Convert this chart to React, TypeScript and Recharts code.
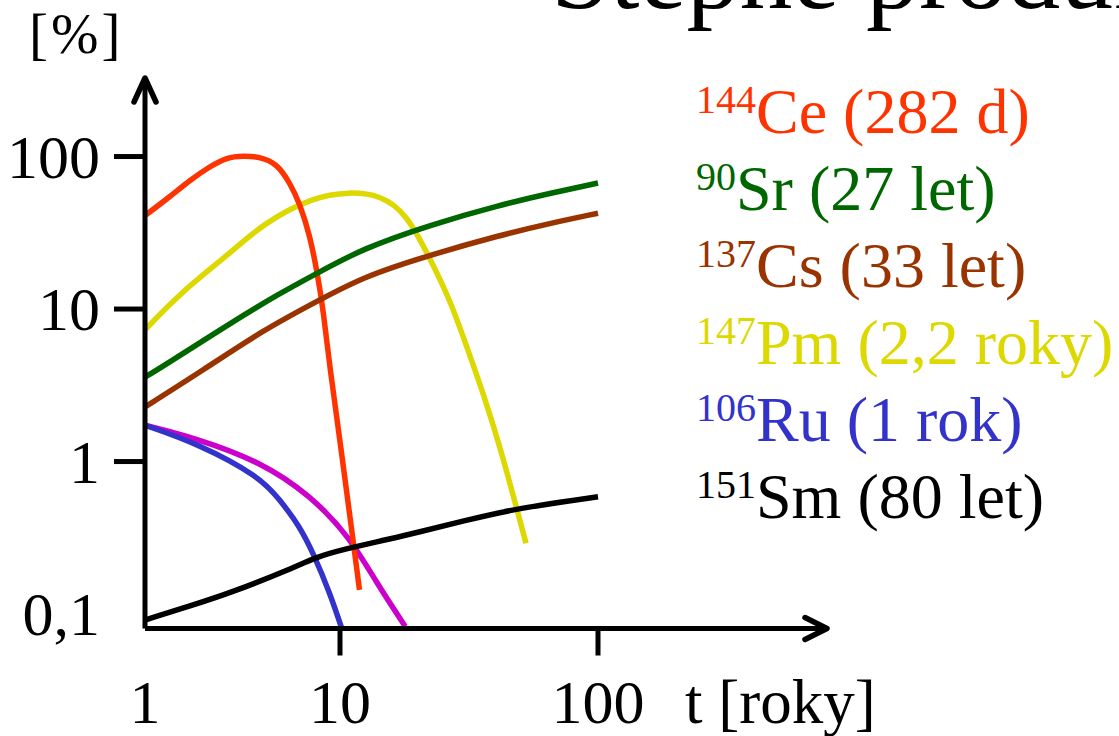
import { LineChart, Line, XAxis, YAxis, Legend, ReferenceDot } from 'recharts';

const FONT = '"Liberation Serif", "Times New Roman", serif';

// The time axis is drawn with the 10–100 decade wider than the 1–10 decade.
const SECOND_DECADE = 258 / 195;
const toAxis = (t: number) => {
  const l = Math.log10(t);
  return l <= 1 ? l : 1 + (l - 1) * SECOND_DECADE;
};
const fromAxis = (u: number) => (u <= 1 ? 10 ** u : 10 ** (1 + (u - 1) / SECOND_DECADE));

const X_MAX = 682 / 195;
const Y_MIN = 0.0804;
const Y_MAX = 327.3;

const X_TICKS = [1, 10, 100];
const Y_TICKS = [0.1, 1, 10, 100];

// nuclides shown in the legend
const KEYS = ['ce', 'sr', 'cs', 'pm', 'ru', 'sm'];
const MASS = ['144', '90', '137', '147', '106', '151'];
const SYMBOL = ['Ce', 'Sr', 'Cs', 'Pm', 'Ru', 'Sm'];
const HALF_LIFE = ['282 d', '27 let', '33 let', '2,2 roky', '1 rok', '80 let'];
const COLORS = ['#ff3300', '#006600', '#993300', '#dcd800', '#3333cc', '#000000'];

// [t (roky), podíl (%)]
const CE = [
  [1, 41], [1.33, 54], [1.7, 70], [2.15, 86], [2.63, 99], [3.2, 101], [3.9, 99.5],
  [4.74, 90], [5.54, 67], [6.23, 49], [7.02, 30], [7.6, 18], [8.21, 9.9], [8.89, 4.0],
  [10, 1.38], [11.9, 0.144],
];
const SR = [
  [1, 3.58], [1.19, 4.08], [2.73, 8.06], [4.92, 12.7], [7.59, 17.1], [12.3, 25],
  [22.3, 35.6], [41.7, 48.1], [65.2, 57.4], [100, 67],
];
const CS = [
  [1, 2.28], [1.99, 3.98], [4.04, 7.28], [7.59, 11.2], [12.3, 16.3], [22.3, 22.6],
  [41.7, 30.5], [65.2, 36.5], [100, 42.5],
];
const PM = [
  [1, 7.3], [1.51, 12.7], [2.73, 23.2], [4.04, 36.5], [7.3, 54.5],
  [10.9, 58.7], [14.3, 56], [18.1, 42.5], [22.3, 21.5], [26.7, 11.5],
  [31, 5.66], [35.9, 2.8], [41.7, 1.25], [48.2, 0.506], [52.6, 0.291],
];
const RU = [
  [1, 1.73], [1.84, 1.32], [3.89, 0.795], [4.92, 0.56], [6.23, 0.374], [7.3, 0.25],
  [8.89, 0.137], [10.3, 0.075],
];
const SM = [
  [1, 0.0914], [1.7, 0.113], [2.73, 0.137], [6.23, 0.209], [7.3, 0.232], [10, 0.263],
  [17.1, 0.321], [31, 0.413], [48.4, 0.493], [100, 0.588],
];
// unlabelled magenta curve
const OTHER = [
  [1, 1.73], [1.84, 1.42], [3.89, 1.0], [7.02, 0.603], [10.9, 0.321], [13.9, 0.159],
  [17.9, 0.083],
];
const OTHER_COLOR = '#cc00cc';

const SERIES: Record<string, number[][]> = { ce: CE, sr: SR, cs: CS, pm: PM, ru: RU, sm: SM };

const toRows = (key: string, points: number[][]) =>
  points.map(([t, v]) => ({ x: toAxis(t), [key]: v }));

// drawing order (later lines sit on top)
const DRAW_ORDER = ['pm', 'ce', 'ru', 'cs', 'sr', 'sm'];

const LINE_W = 5.5;
const AXIS_W = 5;

function YTick({ x, y, payload }: any) {
  const v = payload.value as number;
  return (
    <g>
      {v >= 1 && <line x1={x + 14} x2={x + 45} y1={y} y2={y} stroke="#000" strokeWidth={AXIS_W} />}
      <text x={x} y={y} dy={21} textAnchor="end" fontFamily={FONT} fontSize={62} fill="#000">
        {String(v).replace('.', ',')}
      </text>
    </g>
  );
}

function XTick({ x, y, payload }: any) {
  const t = Math.round(fromAxis(payload.value));
  return (
    <g>
      {t > 1 && <line x1={x} x2={x} y1={y - 27} y2={y} stroke="#000" strokeWidth={AXIS_W} />}
      <text x={x} y={y + 67.5} textAnchor="middle" fontFamily={FONT} fontSize={62} fill="#000">
        {t}
      </text>
    </g>
  );
}

const ArrowUp = (p: any) => (
  <polyline
    points={`${p.cx - 11},${p.cy + 24} ${p.cx},${p.cy} ${p.cx + 11},${p.cy + 24}`}
    fill="none"
    stroke="#000"
    strokeWidth={5.5}
    strokeLinecap="round"
    strokeLinejoin="round"
  />
);

const ArrowRight = (p: any) => (
  <polyline
    points={`${p.cx - 22},${p.cy - 11} ${p.cx},${p.cy} ${p.cx - 22},${p.cy + 11}`}
    fill="none"
    stroke="#000"
    strokeWidth={5.5}
    strokeLinecap="round"
    strokeLinejoin="round"
  />
);

function NuclideLegend({ payload }: any) {
  const items = [...(payload ?? [])]
    .filter((p: any) => KEYS.includes(p.dataKey))
    .sort((a: any, b: any) => KEYS.indexOf(a.dataKey) - KEYS.indexOf(b.dataKey));
  return (
    <div style={{ fontFamily: FONT, fontSize: 64, lineHeight: '77px', whiteSpace: 'nowrap' }}>
      {items.map((item: any) => {
        const i = KEYS.indexOf(item.dataKey);
        return (
          <div key={item.dataKey} style={{ color: item.color, height: 77 }}>
            <span style={{ fontSize: 40, lineHeight: 1, verticalAlign: 20 }}>{MASS[i]}</span>
            {SYMBOL[i]} ({HALF_LIFE[i]})
          </div>
        );
      })}
    </div>
  );
}

export default function App() {
  return (
    <div
      style={{
        position: 'absolute',
        left: 0,
        top: 0,
        width: 1119,
        height: 736,
        overflow: 'hidden',
        background: '#fff',
      }}
    >
      <div
        style={{
          position: 'absolute',
          left: 551,
          top: -80,
          fontFamily: FONT,
          fontSize: 106,
          lineHeight: '106px',
          whiteSpace: 'nowrap',
          color: '#000',
        }}
      >
        Štěpné produkty
      </div>
      <LineChart width={1119} height={736} margin={{ top: 78, right: 292, bottom: 0, left: 0 }}>
        <XAxis
          type="number"
          dataKey="x"
          domain={[0, X_MAX]}
          allowDataOverflow
          ticks={X_TICKS.map(toAxis)}
          interval={0}
          tick={<XTick />}
          tickLine={false}
          tickSize={27}
          tickMargin={0}
          height={107.5}
          axisLine={{ stroke: '#000', strokeWidth: AXIS_W }}
          label={({ viewBox }: any) => (
            <text
              x={viewBox.x + 540}
              y={viewBox.y + 94.5}
              fontFamily={FONT}
              fontSize={63}
              fill="#000"
            >
              t [roky]
            </text>
          )}
        />
        <YAxis
          type="number"
          scale="log"
          domain={[Y_MIN, Y_MAX]}
          allowDataOverflow
          ticks={Y_TICKS}
          interval={0}
          tick={<YTick />}
          tickLine={false}
          tickSize={31}
          tickMargin={14}
          width={145}
          axisLine={{ stroke: '#000', strokeWidth: AXIS_W }}
          label={({ viewBox }: any) => (
            <text
              x={viewBox.x + 29}
              y={viewBox.y - 25}
              fontFamily={FONT}
              fontSize={57}
              letterSpacing={3}
              fill="#000"
            >
              [%]
            </text>
          )}
        />
        <Line
          data={toRows('other', OTHER)}
          dataKey="other"
          type="basis"
          stroke={OTHER_COLOR}
          strokeWidth={LINE_W}
          dot={false}
          legendType="none"
          isAnimationActive={false}
        />
        {DRAW_ORDER.map((key) => {
          const i = KEYS.indexOf(key);
          return (
            <Line
              key={key}
              data={toRows(key, SERIES[key])}
              dataKey={key}
              name={`${MASS[i]}${SYMBOL[i]} (${HALF_LIFE[i]})`}
              type="basis"
              stroke={COLORS[i]}
              strokeWidth={LINE_W}
              dot={false}
              isAnimationActive={false}
            />
          );
        })}
        <ReferenceDot x={0} y={Y_MAX} r={0} ifOverflow="visible" shape={ArrowUp} />
        <ReferenceDot x={X_MAX} y={Y_MIN} r={0} ifOverflow="visible" shape={ArrowRight} />
        <Legend
          layout="vertical"
          align="center"
          verticalAlign="middle"
          content={<NuclideLegend />}
          wrapperStyle={{ left: 696, top: 73, width: 423, height: 470 }}
        />
      </LineChart>
    </div>
  );
}
